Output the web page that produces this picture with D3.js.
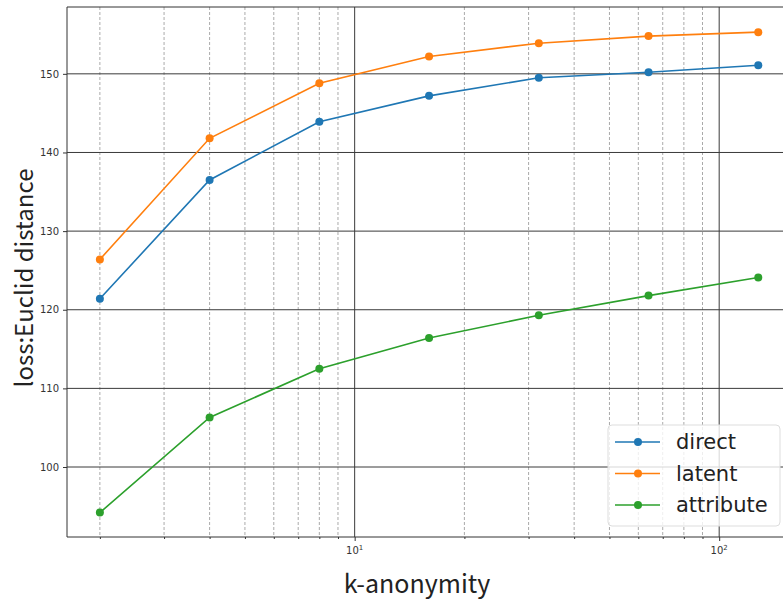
<!DOCTYPE html>
<html><head><meta charset="utf-8">
<script src="https://cdn.jsdelivr.net/npm/d3@7"></script>
<style>body{margin:0;background:#fff}svg{display:block}</style>
</head><body>
<svg id="c" width="783" height="605"></svg>
<script>
const kValues = [2, 4, 8, 16, 32, 64, 128];
const direct = [121.4, 136.5, 143.9, 147.2, 149.5, 150.2, 151.1];
const latent = [126.4, 141.8, 148.8, 152.2, 153.9, 154.8, 155.3];
const attribute = [94.2, 106.3, 112.5, 116.4, 119.3, 121.8, 124.1];
const seriesNames = ["direct", "latent", "attribute"];
const seriesColors = ["#1f77b4", "#ff7f0e", "#2ca02c"];
const yTicks = [100, 110, 120, 130, 140, 150];
const xMajorTicks = [10, 100];
const xMinorTicks = [2,3,4,5,6,7,8,9,20,30,40,50,60,70,80,90];

const series = [direct, latent, attribute];
const svg = d3.select("#c");
const L = 67, T = 7, B = 537;
const x = d3.scaleLog().domain([1.625, 157.4]).range([L, 791]);
const y = d3.scaleLinear().domain([91.1, 158.5]).range([B, T]);

const g = svg.append("g");
// minor grid
g.selectAll(".mg").data(xMinorTicks).join("line")
  .attr("x1", d => x(d)).attr("x2", d => x(d)).attr("y1", T).attr("y2", B)
  .attr("stroke", "#a0a0a0").attr("stroke-width", 0.9).attr("stroke-dasharray", "3,2");
// major grid
g.selectAll(".xg").data(xMajorTicks).join("line")
  .attr("x1", d => x(d)).attr("x2", d => x(d)).attr("y1", T).attr("y2", B)
  .attr("stroke", "#3a3a3a").attr("stroke-width", 1);
g.selectAll(".yg").data(yTicks).join("line")
  .attr("x1", L).attr("x2", 783).attr("y1", d => y(d)).attr("y2", d => y(d))
  .attr("stroke", "#3a3a3a").attr("stroke-width", 1);

// axes
const xAxis = d3.axisBottom(x).tickValues(xMajorTicks).tickFormat(() => "").tickSizeOuter(0).tickSize(4);
const xa = svg.append("g").attr("transform", `translate(0,${B})`).call(xAxis);
xa.select(".domain").remove();
xa.selectAll("line").attr("stroke", "#333");
const xMinorAxis = d3.axisBottom(x).tickValues(xMinorTicks).tickFormat(() => "").tickSize(2);
const xm = svg.append("g").attr("transform", `translate(0,${B})`).call(xMinorAxis);
xm.select(".domain").remove();
xm.selectAll("line").attr("stroke", "#333");
const xl = svg.append("g");
xMajorTicks.forEach(v => {
  const t = xl.append("text").attr("x", x(v)).attr("y", B + 17).attr("text-anchor", "middle")
    .attr("font-family", "DejaVu Sans").attr("font-size", 10).attr("fill", "#333");
  t.append("tspan").text("10");
  t.append("tspan").attr("dy", -4).attr("font-size", 7).text(String(Math.round(Math.log10(v))));
});

const yAxis = d3.axisLeft(y).tickValues(yTicks).tickSize(4).tickPadding(4);
const ya = svg.append("g").attr("transform", `translate(${L},0)`).call(yAxis);
ya.select(".domain").remove();
ya.selectAll("line").attr("stroke", "#333");
ya.selectAll("text").attr("font-family", "DejaVu Sans").attr("font-size", 10).attr("fill", "#333");

// spines
svg.append("line").attr("x1", L).attr("x2", L).attr("y1", T).attr("y2", B).attr("stroke", "#333");
svg.append("line").attr("x1", L).attr("x2", 783).attr("y1", T).attr("y2", T).attr("stroke", "#333");
svg.append("line").attr("x1", L).attr("x2", 783).attr("y1", B).attr("y2", B).attr("stroke", "#333");

// lines
const line = d3.line().x((d, i) => x(kValues[i])).y(d => y(d));
series.forEach((s, si) => {
  svg.append("path").datum(s).attr("d", line).attr("fill", "none")
    .attr("stroke", seriesColors[si]).attr("stroke-width", 1.6);
  svg.selectAll(".p" + si).data(s).join("circle")
    .attr("cx", (d, i) => x(kValues[i])).attr("cy", d => y(d)).attr("r", 4)
    .attr("fill", seriesColors[si]);
});

// labels
svg.append("text").attr("x", 417).attr("y", 593).attr("text-anchor", "middle")
  .attr("font-family", "Noto Sans CJK JP").attr("font-size", 25).attr("fill", "#222").text("k-anonymity");
svg.append("text").attr("transform", "translate(33,278) rotate(-90)").attr("text-anchor", "middle")
  .attr("font-family", "Noto Sans CJK JP").attr("font-size", 24).attr("fill", "#222").text("loss:Euclid distance");

// legend
const lg = svg.append("g");
lg.append("rect").attr("x", 608).attr("y", 425).attr("width", 172).attr("height", 101).attr("rx", 4)
  .attr("fill", "#fff").attr("fill-opacity", 0.8).attr("stroke", "#ddd");
seriesNames.forEach((n, i) => {
  const yy = 442 + i * 31.5;
  lg.append("line").attr("x1", 615).attr("x2", 660).attr("y1", yy).attr("y2", yy)
    .attr("stroke", seriesColors[i]).attr("stroke-width", 1.6);
  lg.append("circle").attr("cx", 638).attr("cy", yy).attr("r", 4).attr("fill", seriesColors[i]);
  lg.append("text").attr("x", 676).attr("y", yy + 7).attr("font-family", "DejaVu Sans")
    .attr("font-size", 21).attr("fill", "#222").text(n);
});
</script>
</body></html>
